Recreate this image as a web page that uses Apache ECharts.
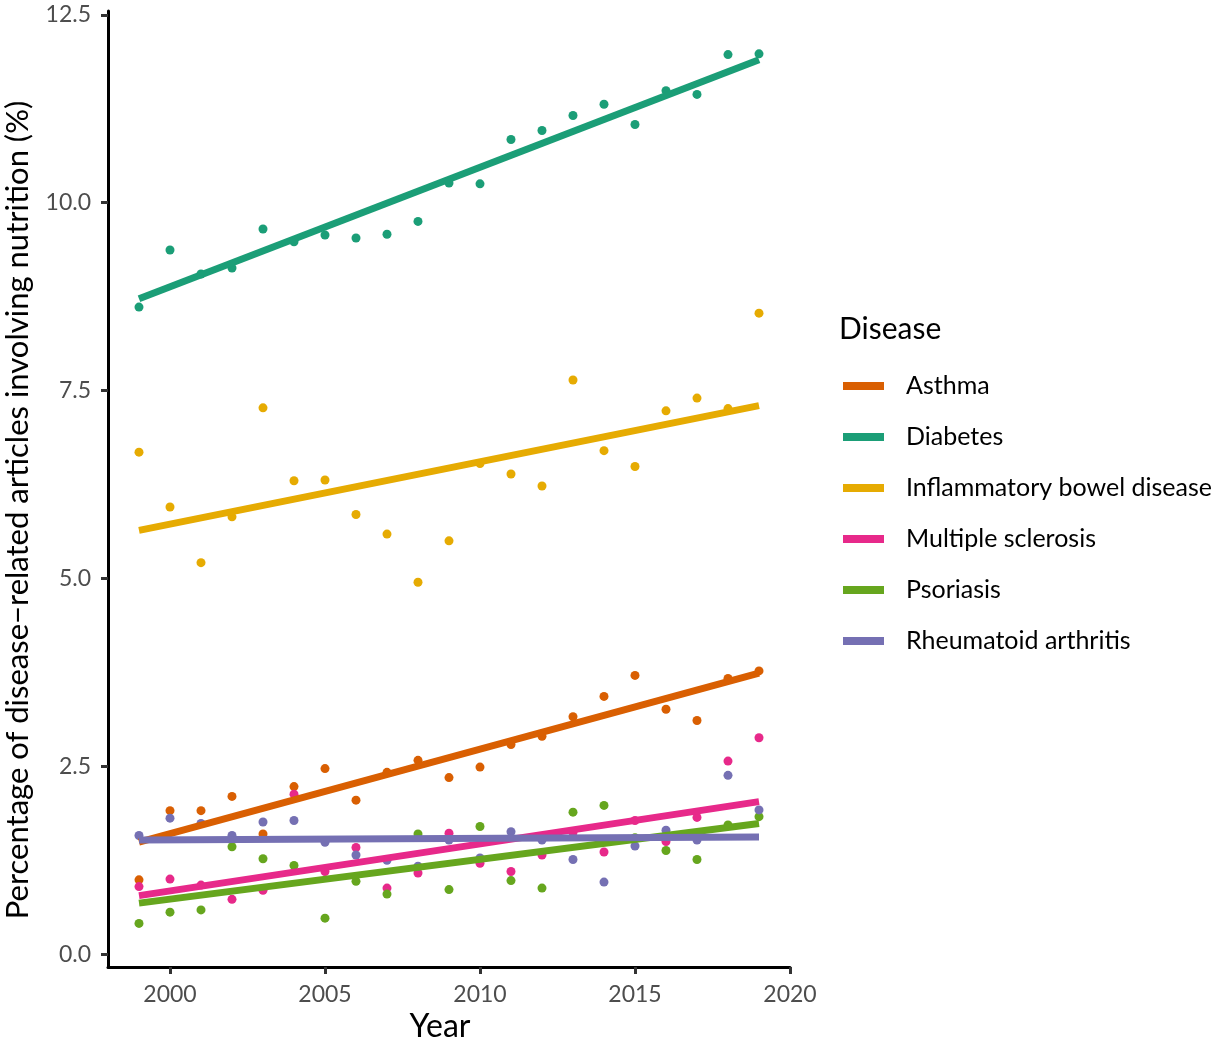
<!DOCTYPE html>
<html>
<head>
<meta charset="utf-8">
<script src="https://cdn.jsdelivr.net/npm/echarts@6/dist/echarts.min.js"></script>
<style>
html,body{margin:0;padding:0;background:#fff;}
#chart{width:1229px;height:1048px;}
</style>
</head>
<body>
<div id="chart"></div>
<script>
// ---- data ----
const years = [1999,2000,2001,2002,2003,2004,2005,2006,2007,2008,2009,2010,2011,2012,2013,2014,2015,2016,2017,2018,2019];
const diseases = ['Asthma','Diabetes','Inflammatory bowel disease','Multiple sclerosis','Psoriasis','Rheumatoid arthritis'];
const colors = ['#D95F02','#1B9E77','#E6AB02','#E7298A','#66A61E','#7570B3'];

const asthma    = [0.99,1.91,1.91,2.10,1.60,2.23,2.47,2.05,2.42,2.58,2.35,2.49,2.79,2.90,3.16,3.43,3.71,3.26,3.11,3.67,3.77];
const diabetes  = [8.61,9.37,9.05,9.13,9.65,9.48,9.57,9.53,9.58,9.75,10.26,10.25,10.84,10.96,11.16,11.31,11.04,11.49,11.44,11.97,11.98];
const ibd       = [6.68,5.95,5.21,5.82,7.27,6.30,6.31,5.85,5.59,4.95,5.50,6.53,6.39,6.23,7.64,6.70,6.49,7.23,7.40,7.26,8.53];
const ms        = [0.90,1.00,0.92,0.73,0.85,2.13,1.10,1.42,0.88,1.08,1.61,1.21,1.10,1.32,1.62,1.36,1.78,1.50,1.82,2.57,2.88];
const psoriasis = [0.41,0.56,0.59,1.43,1.27,1.18,0.48,0.97,0.80,1.60,0.86,1.70,0.98,0.88,1.89,1.98,1.55,1.38,1.26,1.72,1.83];
const ra        = [1.58,1.81,1.74,1.58,1.76,1.78,1.49,1.32,1.25,1.17,1.52,1.28,1.63,1.52,1.26,0.96,1.44,1.65,1.52,2.38,1.92];

// fitted trend lines, at the first and last year
const trendYears = [1999, 2019];
const trendStart = [1.49, 8.72, 5.64, 0.78, 0.68, 1.52];
const trendEnd   = [3.74, 11.90, 7.30, 2.03, 1.74, 1.56];

const xTicks = [2000, 2005, 2010, 2015, 2020];
const yTicks = [0, 2.5, 5, 7.5, 10, 12.5];

const values = [asthma, diabetes, ibd, ms, psoriasis, ra];

// ---- chart ----
const FONT = 'Lato';
const chart = echarts.init(document.getElementById('chart'));

const scatterSeries = diseases.map((name, i) => ({
  name: name,
  type: 'scatter',
  data: years.map((y, j) => [y, values[i][j]]),
  symbol: 'circle',
  symbolSize: 9,
  itemStyle: { color: colors[i], opacity: 1 },
  z: 2,
  silent: true
}));

const lineSeries = diseases.map((name, i) => ({
  name: name,
  type: 'line',
  data: [[trendYears[0], trendStart[i]], [trendYears[1], trendEnd[i]]],
  symbol: 'none',
  lineStyle: { color: colors[i], width: 7, cap: 'butt' },
  itemStyle: { color: colors[i] },
  z: 3,
  silent: true
}));

chart.setOption({
  animation: false,
  backgroundColor: '#ffffff',
  title: {
    text: 'Disease',
    left: 834,
    top: 309,
    textStyle: { fontFamily: FONT, fontSize: 30, fontWeight: 'normal', color: '#000' }
  },
  legend: {
    orient: 'vertical',
    left: 843,
    top: 373,
    padding: 0,
    icon: 'rect',
    itemWidth: 41,
    itemHeight: 8,
    itemGap: 25,
    data: diseases,
    selectedMode: false,
    textStyle: { fontFamily: FONT, fontSize: 25, lineHeight: 26, color: '#000', padding: [0, 0, 0, 17] }
  },
  grid: { left: 108, top: 11, width: 682, height: 956, containLabel: false },
  xAxis: {
    type: 'value',
    min: 1998,
    max: 2020,
    axisLine: { show: true, onZero: false, lineStyle: { color: '#000', width: 3 } },
    axisTick: { show: true, customValues: xTicks, length: 7, lineStyle: { color: '#333', width: 3 } },
    axisLabel: { customValues: xTicks, margin: 16, fontFamily: FONT, fontSize: 23, color: '#4d4d4d',
                 formatter: v => String(v) },
    splitLine: { show: false }
  },
  yAxis: {
    type: 'value',
    min: -0.17,
    max: 12.55,
    axisLine: { show: true, onZero: false, lineStyle: { color: '#000', width: 3 } },
    axisTick: { show: true, customValues: yTicks, length: 7, lineStyle: { color: '#333', width: 3 } },
    axisLabel: { customValues: yTicks, margin: 17, fontFamily: FONT, fontSize: 23, color: '#4d4d4d',
                 formatter: v => Number(v).toFixed(1) },
    splitLine: { show: false }
  },
  graphic: [
    {
      type: 'text',
      x: 18, y: 510,
      rotation: Math.PI / 2,
      style: { text: 'Percentage of disease\u2212related articles involving nutrition (%)',
               font: '31px Lato', fill: '#000', textAlign: 'center', textVerticalAlign: 'middle' }
    },
    {
      type: 'text',
      x: 440, y: 1027,
      style: { text: 'Year', font: '32px Lato', fill: '#000', textAlign: 'center', textVerticalAlign: 'middle' }
    }
  ],
  series: scatterSeries.concat(lineSeries)
});
</script>
</body>
</html>
